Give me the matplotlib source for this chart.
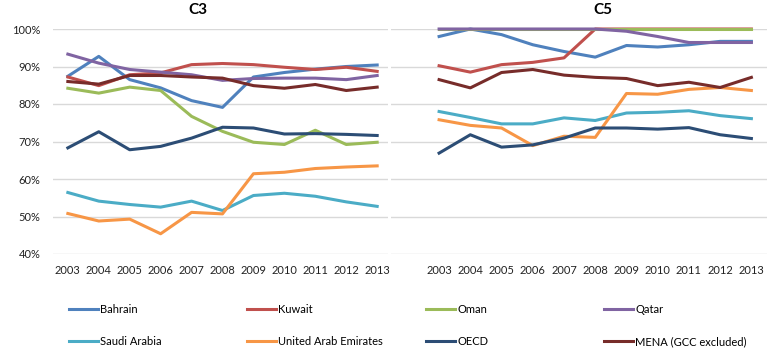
import matplotlib.pyplot as plt

years = [str(y) for y in range(2003, 2014)]
names = ['Bahrain', 'Kuwait', 'Oman', 'Qatar', 'Saudi Arabia',
         'United Arab Emirates', 'OECD', 'MENA (GCC excluded)']
colors = ['#4F81BD', '#C0504D', '#9BBB59', '#8064A2', '#4BACC6',
          '#F79646', '#2C4D75', '#772C2A']

# C3 values (%)
c3_bahrain = [87.4, 92.7, 86.5, 84.3, 80.9, 79.1, 87.2, 88.4, 89.3, 90.0, 90.4]
c3_kuwait = [87.2, 84.9, 87.8, 88.3, 90.5, 90.8, 90.5, 89.8, 89.2, 89.8, 88.7]
c3_oman = [84.2, 82.9, 84.5, 83.6, 76.7, 72.7, 69.8, 69.2, 73.0, 69.2, 69.8]
c3_qatar = [93.3, 90.9, 89.2, 88.5, 87.8, 86.3, 86.8, 86.9, 86.9, 86.5, 87.6]
c3_saudi = [56.4, 54.1, 53.2, 52.5, 54.1, 51.6, 55.6, 56.2, 55.4, 53.9, 52.7]
c3_uae = [50.8, 48.8, 49.3, 45.4, 51.1, 50.7, 61.4, 61.8, 62.8, 63.2, 63.5]
c3_oecd = [68.3, 72.6, 67.8, 68.7, 70.9, 73.8, 73.6, 72.0, 72.1, 71.9, 71.6]
c3_mena = [86.0, 85.3, 87.6, 87.6, 87.2, 86.9, 84.9, 84.2, 85.2, 83.6, 84.5]

# C5 values (%)
c5_bahrain = [98.0, 100.0, 98.5, 95.8, 94.0, 92.5, 95.6, 95.2, 95.8, 96.7, 96.7]
c5_kuwait = [90.2, 88.5, 90.5, 91.1, 92.3, 100.0, 100.0, 100.0, 100.0, 100.0, 100.0]
c5_oman = [100.0] * 11
c5_qatar = [100.0, 100.0, 100.0, 100.0, 100.0, 100.0, 99.4, 98.0, 96.4, 96.4, 96.4]
c5_saudi = [78.0, 76.4, 74.7, 74.7, 76.3, 75.6, 77.6, 77.8, 78.2, 76.9, 76.1]
c5_uae = [75.8, 74.3, 73.6, 68.9, 71.4, 71.1, 82.8, 82.6, 83.9, 84.4, 83.6]
c5_oecd = [66.9, 71.8, 68.5, 69.1, 70.9, 73.6, 73.6, 73.3, 73.7, 71.8, 70.8]
c5_mena = [86.5, 84.3, 88.4, 89.2, 87.7, 87.1, 86.8, 84.9, 85.8, 84.4, 87.1]

c3 = [c3_bahrain, c3_kuwait, c3_oman, c3_qatar, c3_saudi, c3_uae, c3_oecd, c3_mena]
c5 = [c5_bahrain, c5_kuwait, c5_oman, c5_qatar, c5_saudi, c5_uae, c5_oecd, c5_mena]

plt.rcParams['font.family'] = ['Lato', 'DejaVu Sans']

fig = plt.figure(figsize=(7.8, 3.6), dpi=100)
ax1 = fig.add_axes([53 / 780, 1 - 254 / 360, 335 / 780, 225 / 360])
ax2 = fig.add_axes([391 / 780, 1 - 254 / 360, 376 / 780, 225 / 360])

handles = []
for ax, data, xlim in [(ax1, c3, (-0.48, 10.35)), (ax2, c5, (-1.54, 10.5))]:
    x = list(range(len(years)))
    for vals, name, col in zip(data, names, colors):
        ln, = ax.plot(x, vals, color=col, lw=2.2, label=name, clip_on=False,
                      solid_joinstyle='round')
        if ax is ax1:
            handles.append(ln)
    ax.set_ylim(40, 100)
    ax.set_xlim(*xlim)
    ax.set_yticks(range(40, 101, 10))
    ax.set_xticks(x)
    ax.set_xticklabels(years)
    ax.grid(axis='y', color='#D9D9D9', lw=1)
    ax.set_axisbelow(True)
    for s in ax.spines.values():
        s.set_visible(False)
    ax.tick_params(length=0, labelsize=8, colors='#222222')
    ax.tick_params(axis='x', pad=8)
    ax.tick_params(axis='y', pad=9)

ax1.set_yticklabels([f'{v}%' for v in range(40, 101, 10)])
ax2.set_yticklabels([])

fig.text(198 / 780, 1 - 10 / 360, 'C3', ha='center', va='center',
         fontsize=11, fontweight='bold')
fig.text(603 / 780, 1 - 10 / 360, 'C5', ha='center', va='center',
         fontsize=11, fontweight='bold')

# legend: 4 fixed-width columns, 2 rows
col_x = [69, 247, 426, 604]
for j in range(4):
    fig.legend([handles[j], handles[j + 4]], [names[j], names[j + 4]],
               loc='upper left', bbox_to_anchor=(col_x[j] / 780, 1 - 304 / 360),
               frameon=False, fontsize=8, handlelength=2.6, handletextpad=0.2,
               labelspacing=1.9, borderaxespad=0, borderpad=0)

fig.savefig('out.png', dpi=100)
